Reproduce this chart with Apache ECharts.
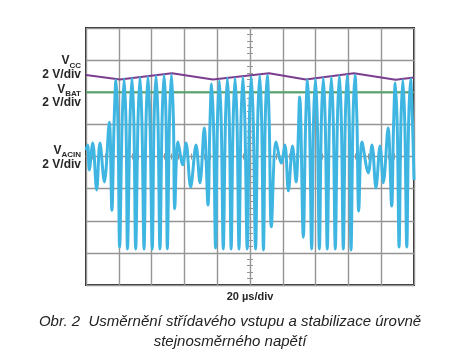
<!DOCTYPE html>
<html><head><meta charset="utf-8">
<script src="https://cdn.jsdelivr.net/npm/echarts@6/dist/echarts.min.js"></script>
<style>html,body{margin:0;padding:0;background:#fff}#c{width:459px;height:360px}</style>
</head><body><div id="c"></div>
<script>
// time in µs (screen centre = 0), amplitude in divisions (screen centre = 0)
const acinT = [-100,-99.0,-98.0,-95.9,-93.5,-91.5,-88.8,-85.8,-84.2,
  -82.9,-81.7,-80.5,-79.5,-78.0,-76.8,-75.6,-74.7,-73.2,-72.0,-70.8,-69.7,-68.3,-67.1,-65.9,-64.6,
  -63.4,-62.2,-61.0,-59.6,-58.5,-57.3,-56.1,-54.9,-53.6,-52.4,-51.2,-50.4,-49.1,-47.9,-46.7,-45.9,
  -43.9,-41.0,-39.0,-36.2,-32.9,-30.5,-27.9,-25.6,
  -24.5,-23.4,-22.2,-21.0,-19.9,-18.7,-17.5,-16.3,-15.0,-13.8,-12.6,-11.5,-10.3,-9.1,-7.9,-6.7,
  -5.5,-4.3,-3.1,-1.7,-0.4,0.8,2.0,3.4,4.7,5.9,7.1,8.2,9.3,10.5,11.7,13.0,
  15.9,19.1,21.3,23.4,25.9,28.1,30.3,32.5,
  33.9,35.1,36.3,37.6,38.7,39.9,41.1,42.3,43.5,44.7,45.9,47.1,48.4,49.6,50.8,52.0,
  53.3,54.5,55.7,56.9,58.1,59.3,60.5,61.6,62.8,64.0,65.2,66.3,
  68.3,72.1,74.4,76.8,79.3,81.3,84.2,86.4,
  87.5,88.6,89.8,90.9,92.0,93.2,94.4,95.6,96.7,97.9,99.1,100];
const acinV = [0.20,0.36,-0.42,0.42,-1.04,0.42,-0.79,1.07,-1.67,
  0.98,2.38,0.98,-2.82,1.01,2.41,1.01,-2.88,1.04,2.44,1.04,-2.88,1.07,2.47,1.07,-2.88,
  1.09,2.49,1.09,-2.88,1.11,2.51,1.11,-2.88,1.14,2.54,1.14,-2.88,1.15,2.55,1.15,-1.63,
  0.45,-0.26,0.42,-0.95,0.36,-0.82,0.89,-1.51,
  0.86,2.26,0.86,-2.85,0.96,2.36,0.96,-2.88,1.04,2.44,1.04,-2.88,1.04,2.44,1.04,-2.88,
  1.07,2.47,1.07,-2.88,1.08,2.48,1.08,-2.88,1.11,2.51,1.11,-2.91,1.13,2.53,1.13,-2.19,
  0.45,-0.20,0.36,-1.07,0.33,-0.79,1.85,-2.51,
  0.98,2.38,0.98,-2.88,1.01,2.41,1.01,-2.88,1.04,2.44,1.04,-2.88,1.07,2.47,1.07,-2.88,
  1.11,2.51,1.11,-2.88,1.14,2.54,1.14,-2.91,1.14,2.54,1.14,-1.70,
  0.45,-0.51,0.36,-0.98,0.33,-0.82,0.89,-1.54,
  0.89,2.29,0.89,-2.82,0.98,2.38,0.98,-2.82,1.01,2.41,1.01,-0.73];
const vccT = [-100,-79.3,-47.6,-22.6,11.6,34.0,63.4,88.8,100];
const vccV = [2.54,2.40,2.59,2.40,2.59,2.40,2.59,2.39,2.46];
const batT = [-100,100];
const batV = [2.0,2.0];
const channelNames = ['CC','BAT','ACIN'];
const scaleText = '2 V/div';
const timeText = '20 µs/div';
const caption1 = 'Obr. 2  Usměrnění střídavého vstupu a stabilizace úrovně';
const caption2 = 'stejnosměrného napětí';

const zip = (a,b)=>a.map((v,i)=>[v,b[i]]);
const chart = echarts.init(document.getElementById('c'));
const gridCol = '#959595';
const mkX = (pos, idx) => ({type:'value', min:-100, max:100, interval:20, position:pos,
  axisLine:{show:true,onZero:true,lineStyle:{color:gridCol,width:1}},
  axisTick:{show:true,inside:true,length:3,lineStyle:{color:gridCol}},
  minorTick:{show:true,splitNumber:5,length:3,lineStyle:{color:gridCol}},
  axisLabel:{show:false}, splitLine:{show:idx===0,lineStyle:{color:gridCol,width:1.4}}});
const mkY = (pos, idx) => ({type:'value', min:-4, max:4, interval:1, position:pos,
  axisLine:{show:true,onZero:true,lineStyle:{color:gridCol,width:1}},
  axisTick:{show:true,inside:true,length:3,lineStyle:{color:gridCol}},
  minorTick:{show:true,splitNumber:5,length:3,lineStyle:{color:gridCol}},
  axisLabel:{show:false}, splitLine:{show:idx===0,lineStyle:{color:gridCol,width:1.4}}});

const meas = document.createElement('canvas').getContext('2d');
const txtCol = '#262626';
function labelGroup(name, yV, yS, yD){
  meas.font = 'bold 8px "Liberation Sans"';
  const sw = meas.measureText(name).width;
  return [
    {type:'text', style:{text:name, x:81, y:yS, align:'right', verticalAlign:'middle', font:'bold 8px "Liberation Sans"', fill:txtCol}},
    {type:'text', style:{text:'V', x:81-sw, y:yV, align:'right', verticalAlign:'middle', font:'bold 12px "Liberation Sans"', fill:txtCol}},
    {type:'text', style:{text:scaleText, x:81, y:yD, align:'right', verticalAlign:'middle', font:'bold 12px "Liberation Sans"', fill:txtCol}}
  ];
}

chart.setOption({
  animation:false,
  backgroundColor:'#fff',
  grid:{left:86, top:28, width:328, height:257, show:true, borderColor:'#2a2a2a', borderWidth:2, backgroundColor:'transparent'},
  xAxis:[mkX('bottom',0), mkX('top',1)],
  yAxis:[mkY('left',0), mkY('right',1)],
  series:[
    {type:'line', data:zip(vccT,vccV), showSymbol:false, lineStyle:{color:'#7b3d8e', width:2}, z:2},
    {type:'line', data:zip(batT,batV), showSymbol:false, lineStyle:{color:'#52a56a', width:2}, z:2},
    {type:'line', data:zip(acinT,acinV), showSymbol:false, smooth:0.35, lineStyle:{color:'#3fb6e2', width:3}, z:3}
  ],
  graphic:[
    ...labelGroup(channelNames[0], 61, 65.5, 74.5),
    ...labelGroup(channelNames[1], 90, 93.5, 102.5),
    ...labelGroup(channelNames[2], 151, 154.5, 164.5),
    {type:'text', style:{text:timeText, x:250, y:297, align:'center', verticalAlign:'middle', font:'bold 11px "Liberation Sans"', fill:txtCol}},
    {type:'text', style:{text:caption1, x:230, y:322, align:'center', verticalAlign:'middle', font:'italic 15px "Liberation Sans"', fill:'#222'}},
    {type:'text', style:{text:caption2, x:230, y:342, align:'center', verticalAlign:'middle', font:'italic 15px "Liberation Sans"', fill:'#222'}}
  ]
});
</script></body></html>
